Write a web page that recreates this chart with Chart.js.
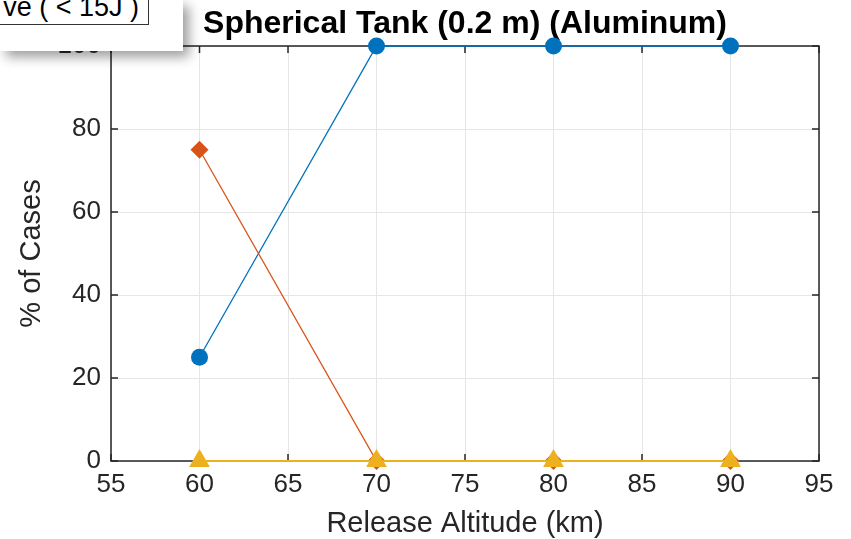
<!DOCTYPE html>
<html>
<head>
<meta charset="utf-8">
<script src="https://cdn.jsdelivr.net/npm/chart.js@4.4.1/dist/chart.umd.min.js"></script>
<style>
    html, body { margin: 0; padding: 0; background: #fff; }
    #wrap { position: relative; width: 851px; height: 539px; }
    #legendPanel {
        position: absolute; left: 0; top: 0; width: 183px; height: 51px;
        background: #fff; box-shadow: 6px 6px 11px rgba(0,0,0,0.38);
    }
    #legendBox {
        position: absolute; left: -1px; top: -1px; width: 139px; height: 24px;
        padding-right: 9px; border: 1px solid #333; background: #fff;
        font: 27px "Liberation Sans", Arial, sans-serif; line-height: 24px;
        text-align: right; color: #000; white-space: nowrap; overflow: hidden;
    }
    #legendBox span { position: relative; top: -5px; }
</style>
</head>
<body>
<div id="wrap">
    <canvas id="chart" width="851" height="539"></canvas>
    <div id="legendPanel"><div id="legendBox"><span>ve ( &lt; 15J )</span></div></div>
</div>
<script>
const altitudes  = [60, 70, 80, 90];
const pctCircle  = [25, 100, 100, 100];
const pctDiamond = [75, 0, 0, 0];
const pctTri     = [0, 0, 0, 0];

const xTicks = [55, 60, 65, 70, 75, 80, 85, 90, 95];
const yTicks = [0, 20, 40, 60, 80, 100];

const AXIS = '#262626';
const FONT = '"Liberation Sans", Arial, sans-serif';

Chart.defaults.font.family = FONT;
Chart.defaults.color = AXIS;

function pts(vals) {
    return altitudes.map((a, i) => ({ x: a, y: vals[i] }));
}

// box around the axes, inward ticks and the bold title
const frame = {
    id: 'frame',
    beforeDatasetsDraw(chart) {
        const { ctx, chartArea: a, scales: { x, y } } = chart;
        ctx.save();
        ctx.strokeStyle = AXIS;
        ctx.lineWidth = 1.5;
        ctx.beginPath();
        x.ticks.forEach(t => {
            const px = x.getPixelForValue(t.value);
            ctx.moveTo(px, a.bottom); ctx.lineTo(px, a.bottom - 7);
            ctx.moveTo(px, a.top);    ctx.lineTo(px, a.top + 7);
        });
        y.ticks.forEach(t => {
            const py = y.getPixelForValue(t.value);
            ctx.moveTo(a.left, py);  ctx.lineTo(a.left + 7, py);
            ctx.moveTo(a.right, py); ctx.lineTo(a.right - 7, py);
        });
        ctx.stroke();
        ctx.strokeRect(a.left, a.top, a.right - a.left, a.bottom - a.top);

        ctx.fillStyle = '#000';
        ctx.font = 'bold 32px ' + FONT;
        ctx.textAlign = 'center';
        ctx.textBaseline = 'alphabetic';
        ctx.fillText('Spherical Tank (0.2 m) (Aluminum)', (a.left + a.right) / 2, 33);
        ctx.restore();
    }
};

new Chart(document.getElementById('chart'), {
    type: 'line',
    data: {
        datasets: [
            {
                label: 'A', data: pts(pctCircle), order: 3,
                borderColor: '#0072BD', backgroundColor: '#0072BD', borderWidth: 1.3,
                pointStyle: 'circle', pointRadius: 8.5, pointBorderWidth: 0,
            },
            {
                label: 'B', data: pts(pctDiamond), order: 2,
                borderColor: '#D95319', backgroundColor: '#D95319', borderWidth: 1.3,
                pointStyle: 'rectRot', pointRadius: 9, pointBorderWidth: 0,
            },
            {
                label: 'C', data: pts(pctTri), order: 1,
                borderColor: '#EDB120', backgroundColor: '#EDB120', borderWidth: 2,
                pointStyle: 'triangle', pointRadius: 12, pointBorderWidth: 0,
            },
        ].map(d => ({ ...d, clip: false, tension: 0, fill: false })),
    },
    options: {
        responsive: false,
        animation: false,
        layout: { padding: { top: 46, right: 32, bottom: 0, left: 0 } },
        plugins: { legend: { display: false }, tooltip: { enabled: false } },
        scales: {
            x: {
                type: 'linear', min: 55, max: 95,
                afterBuildTicks: s => { s.ticks = xTicks.map(v => ({ value: v })); },
                afterFit: s => { s.height = 78; },
                grid: { color: '#e6e6e6', drawTicks: false },
                border: { display: false },
                ticks: { font: { size: 26 }, padding: 8, maxRotation: 0, color: AXIS },
                title: { display: true, text: 'Release Altitude (km)', font: { size: 29 }, color: AXIS, padding: { top: 0, bottom: -2 } },
            },
            y: {
                min: 0, max: 100,
                afterBuildTicks: s => { s.ticks = yTicks.map(v => ({ value: v })); },
                afterFit: s => { s.width = 111; },
                grid: { color: '#e6e6e6', drawTicks: false },
                border: { display: false },
                ticks: { font: { size: 26 }, padding: 10, color: AXIS },
                title: { display: true, text: '% of Cases', font: { size: 29 }, color: AXIS, padding: { top: 15, bottom: 0 } },
            },
        },
    },
    plugins: [frame],
});
</script>
</body>
</html>
